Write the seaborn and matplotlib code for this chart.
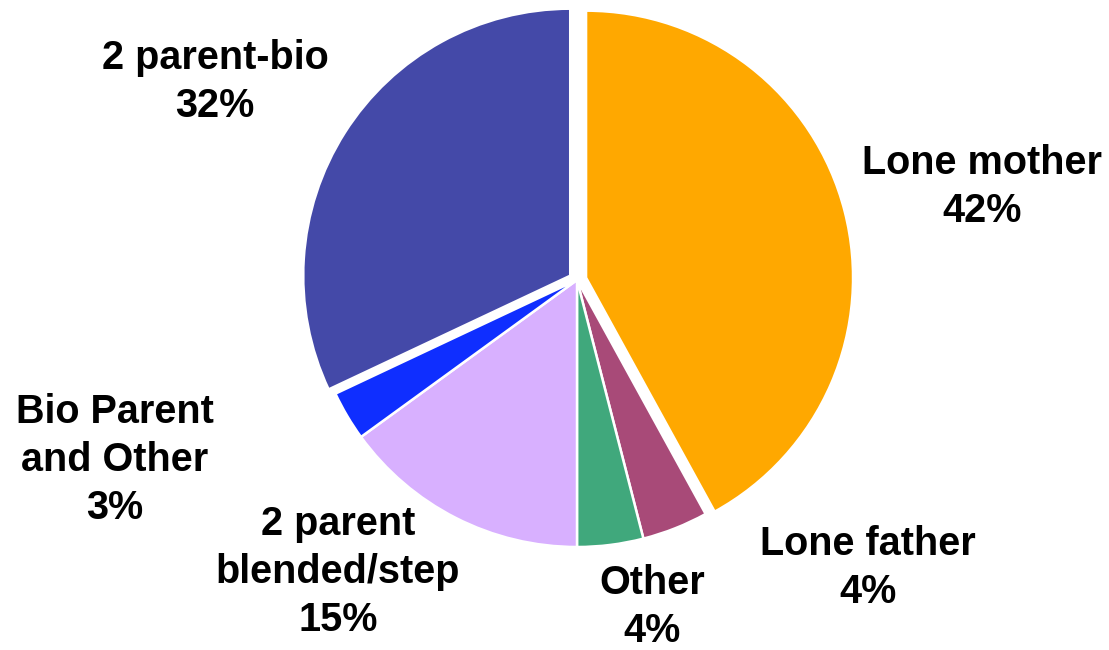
import matplotlib
matplotlib.use("Agg")
import matplotlib.pyplot as plt
import seaborn as sns

categories = ["Lone mother", "Lone father", "Other", "2 parent\nblended/step",
              "Bio Parent\nand Other", "2 parent-bio"]
values = [42, 4, 4, 15, 3, 32]
colors = ["#FFA800", "#A84A78", "#40A87C", "#D8B0FF", "#0F2EFF", "#4449A8"]
explode = [0.035, 0, 0, 0, 0, 0.03]

# label placement in pixel coordinates of the 1109x650 canvas (layout only)
label_px = [(982, 187), (868, 568), (652, 607), (338, 572), (115, 460), (215, 82)]

sns.set_theme(style="white")
plt.rcParams['font.family'] = ['Liberation Sans', 'DejaVu Sans']

W, H = 1109, 650
CX, CY, R = 577, 280, 267

fig = plt.figure(figsize=(W / 100, H / 100), dpi=100)
ax = fig.add_axes([0, 0, 1, 1])
ax.pie(values, colors=colors, explode=explode, startangle=90, counterclock=False,
       radius=1, center=(0, 0),
       wedgeprops=dict(edgecolor="white", linewidth=1.8))
ax.set_xlim(-CX / R, (W - CX) / R)
ax.set_ylim(-(H - CY) / R, CY / R)
ax.set_aspect('equal', adjustable='box')
ax.axis('off')

def to_data(px, py):
    return (px - CX) / R, (CY - py) / R

for cat, val, (px, py) in zip(categories, values, label_px):
    x, y = to_data(px, py)
    ax.text(x, y, f"{cat}\n{val}%", ha="center", va="center", fontsize=28.5,
            fontweight="bold", color="black", linespacing=1.33)

fig.savefig("out.png", dpi=100, facecolor="white")
